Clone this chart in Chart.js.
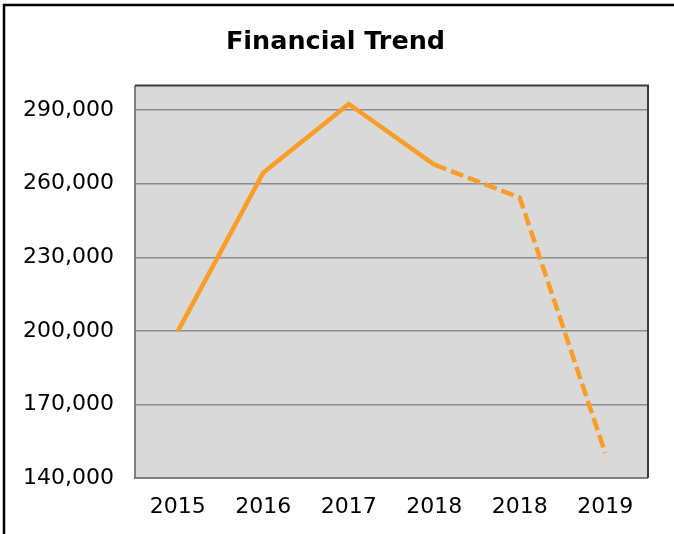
<!DOCTYPE html>
<html>
<head>
<meta charset="utf-8">
<script src="https://cdn.jsdelivr.net/npm/chart.js@4/dist/chart.umd.min.js"></script>
<style>
  html, body { margin: 0; padding: 0; background: #fff; overflow: hidden; }
  canvas { display: block; }
</style>
</head>
<body>
<canvas id="chart" width="674" height="534"></canvas>
<script>
// ── Data ──────────────────────────────────────────────────────────────────────
const years   = ['2015', '2016', '2017', '2018', '2018', '2019'];
const revenue = [199800, 264500, 292500, 267800, 254300, 150200];
const yTicks  = [140000, 170000, 200000, 230000, 260000, 290000];

const ORANGE = '#f99d26';
const FONT   = "'DejaVu Sans', Verdana, sans-serif";

// plot background, plot border and the outer frame (left + top only)
const plotFrame = {
  id: 'plotFrame',
  beforeDraw(chart) {
    const { ctx, chartArea: a } = chart;
    ctx.save();
    ctx.fillStyle = '#d9d9d9';
    ctx.fillRect(a.left, a.top, a.right - a.left, a.bottom - a.top);
    ctx.restore();
  },
  afterDraw(chart) {
    const { ctx, chartArea: a, width, height } = chart;
    ctx.save();
    ctx.lineWidth = 2;
    ctx.strokeStyle = '#808080';
    ctx.beginPath();
    ctx.moveTo(a.left, a.top);
    ctx.lineTo(a.left, a.bottom);
    ctx.lineTo(a.right, a.bottom);
    ctx.stroke();
    ctx.strokeStyle = '#3a3a3a';
    ctx.beginPath();
    ctx.moveTo(a.left, a.top);
    ctx.lineTo(a.right, a.top);
    ctx.lineTo(a.right, a.bottom);
    ctx.stroke();

    ctx.lineWidth = 2.5;
    ctx.strokeStyle = '#000';
    ctx.beginPath();
    ctx.moveTo(4, height);
    ctx.lineTo(4, 5);
    ctx.lineTo(width, 5);
    ctx.stroke();
    ctx.restore();
  }
};

new Chart(document.getElementById('chart'), {
  type: 'line',
  data: {
    labels: years,
    datasets: [{
      data: revenue,
      borderColor: ORANGE,
      borderWidth: 4.5,
      pointRadius: 0,
      tension: 0,
      fill: false,
      segment: {
        borderDash: c => c.p0DataIndex >= 3 ? [13, 5] : undefined,
      },
    }]
  },
  options: {
    responsive: false,
    animation: false,
    devicePixelRatio: 1,
    layout: { padding: { top: 12, left: 23, right: 26, bottom: 0 } },
    plugins: {
      legend: { display: false },
      tooltip: { enabled: false },
      title: {
        display: true,
        text: 'Financial Trend',
        color: '#000',
        font: { family: FONT, size: 25.5, weight: 'bold' },
        padding: { top: 15, bottom: 28 },
      }
    },
    scales: {
      x: {
        offset: true,
        grid: { display: false, drawTicks: false },
        border: { display: false },
        ticks: { color: '#000', font: { family: FONT, size: 22 }, padding: 16, maxRotation: 0 },
        afterFit: s => { s.height = 56; },
      },
      y: {
        min: 140000,
        max: 300000,
        afterBuildTicks: s => { s.ticks = yTicks.map(v => ({ value: v })); },
        grid: { color: '#8c8c8c', lineWidth: 1.5, drawTicks: false },
        border: { display: false },
        ticks: {
          color: '#000',
          font: { family: FONT, size: 22 },
          padding: 21,
          callback: v => v.toLocaleString('en-US'),
        },
        afterFit: s => { s.width = 112; },
      }
    }
  },
  plugins: [plotFrame]
});
</script>
</body>
</html>
